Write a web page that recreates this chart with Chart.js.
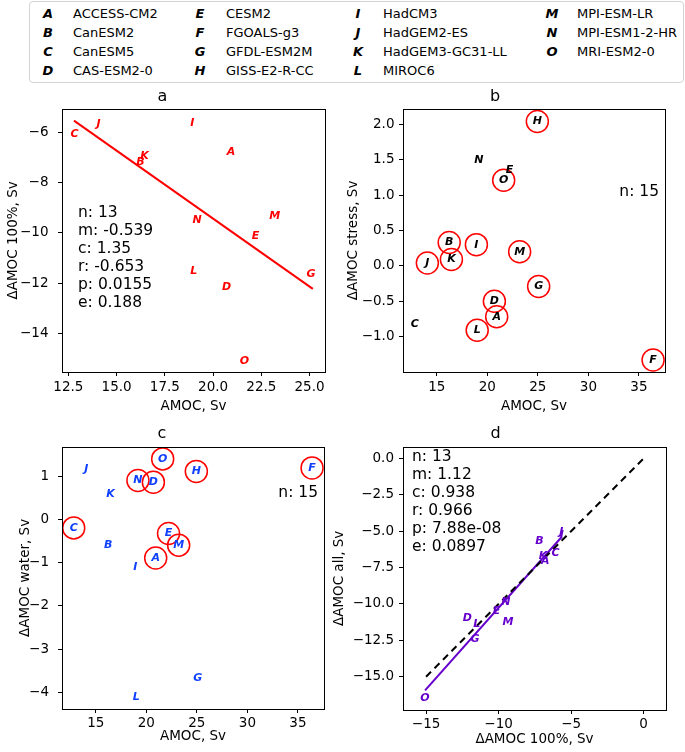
<!DOCTYPE html>
<html>
<head>
<meta charset="utf-8">
<script src="https://cdn.jsdelivr.net/npm/chart.js@4.4.1/dist/chart.umd.min.js"></script>
<style>
  body { margin: 0; background: #fff; width: 685px; height: 752px; position: relative; overflow: hidden; font-family: "DejaVu Sans", sans-serif; }
  canvas { position: absolute; }
  #legendBox { position: absolute; left: 29px; top: 1px; width: 655px; height: 82px; border: 1px solid #d3d3d3; border-radius: 4px; box-sizing: border-box; }
  .lg { position: absolute; font-size: 13px; line-height: 16px; white-space: nowrap; color: #000; transform: translateY(-50%); }
  .lg.code { font-weight: bold; font-style: italic; transform: translate(-50%, -50%); }
</style>
</head>
<body>
<div id="legendBox"></div>
<div id="legendItems"></div>
<canvas id="chartA" width="340" height="330" style="left:0;top:85px"></canvas>
<canvas id="chartB" width="360" height="330" style="left:325px;top:85px"></canvas>
<canvas id="chartC" width="340" height="337" style="left:0;top:415px"></canvas>
<canvas id="chartD" width="360" height="337" style="left:325px;top:415px"></canvas>
<script>
// Models and their letter codes
const letters = ['A', 'B', 'C', 'D', 'E', 'F', 'G', 'H', 'I', 'J', 'K', 'L', 'M', 'N', 'O'];
const models = ['ACCESS-CM2', 'CanESM2', 'CanESM5', 'CAS-ESM2-0', 'CESM2', 'FGOALS-g3', 'GFDL-ESM2M',
                'GISS-E2-R-CC', 'HadCM3', 'HadGEM2-ES', 'HadGEM3-GC31-LL', 'MIROC6', 'MPI-ESM-LR',
                'MPI-ESM1-2-HR', 'MRI-ESM2-0'];

// Values per model (null = model not in that panel)
const amoc      = [20.93, 16.23, 12.82, 20.7, 22.2, 36.4, 25.08, 24.95, 18.92, 14.07, 16.45, 19.0, 23.2, 19.17, 21.62];
const d100      = [-6.79, -7.19, -6.08, -12.16, -10.14, null, -11.62, null, -5.64, -5.68, -6.93, -11.5, -9.35, -9.5, -15.07];
const dStress   = [-0.72, 0.33, -0.82, -0.5, 1.36, -1.33, -0.29, 2.04, 0.3, 0.04, 0.09, -0.91, 0.2, 1.5, 1.21];
const dWater    = [-0.89, -0.59, -0.19, 0.87, -0.32, 1.2, -3.67, 1.12, -1.1, 1.18, 0.6, -4.11, -0.59, 0.91, 1.41];
const dAll      = [-7.05, -5.68, -6.53, -10.99, -10.49, null, -12.43, null, -5.3, -5.08, -6.71, -11.4, -11.27, -9.89, -16.49];
const stressRing = [1, 1, 0, 1, 0, 1, 1, 1, 1, 1, 1, 1, 1, 0, 1];
const waterRing  = [1, 0, 1, 1, 1, 1, 0, 1, 0, 0, 0, 0, 1, 1, 1];

// Regression / reference lines (end points)
const fitAX = [12.79, 25.17], fitAY = [-5.54, -12.22];
const fitDX = [-15.07, -5.64], fitDY = [-15.94, -5.38];
const oneX = [-15, 0], oneY = [-15, 0];

// Stats text
const statsA = ['n: 13', 'm: -0.539', 'c: 1.35', 'r: -0.653', 'p: 0.0155', 'e: 0.188'];
const statsB = ['n: 15'];
const statsC = ['n: 15'];
const statsD = ['n: 13', 'm: 1.12', 'c: 0.938', 'r: 0.966', 'p: 7.88e-08', 'e: 0.0897'];

// Tick values
const aXTicks = [12.5, 15, 17.5, 20, 22.5, 25];
const aYTicks = [-6, -8, -10, -12, -14];
const bXTicks = [15, 20, 25, 30, 35];
const bYTicks = [-1, -0.5, 0, 0.5, 1, 1.5, 2];
const cYTicks = [-4, -3, -2, -1, 0, 1];
const dXTicks = [-15, -10, -5, 0];
const dYTicks = [0, -2.5, -5, -7.5, -10, -12.5, -15];

const FONT = "'DejaVu Sans', sans-serif";
const RED = '#ff0000', BLUE = '#1040ff', PURPLE = '#6600cc';

// legend
const legendItems = document.getElementById('legendItems');
const colCode = [48, 200, 358, 552], colName = [73, 226, 383, 577], rowY = [13.5, 32.5, 51.5, 70.5];
letters.forEach((l, i) => {
    const col = Math.floor(i / 4), row = i % 4;
    legendItems.insertAdjacentHTML('beforeend',
        `<div class="lg code" style="left:${colCode[col]}px;top:${rowY[row]}px">${l}</div>` +
        `<div class="lg" style="left:${colName[col]}px;top:${rowY[row]}px">${models[i]}</div>`);
});

function fmt(v, dec) {
    return (v < 0 ? '\u2212' : '') + Math.abs(v).toFixed(dec);
}

function pts(xs, ys, keep) {
    const out = [];
    xs.forEach((x, i) => {
        if (ys[i] === null || x === null) return;
        if (keep && !keep[i]) return;
        out.push({ x: x, y: ys[i], label: letters[i] });
    });
    return out;
}

function pair(xs, ys) {
    return xs.map((x, i) => ({ x: x, y: ys[i] }));
}

// draws the letter codes at the data points, frame, and stats text
const markPlugin = {
    id: 'marks',
    afterDatasetsDraw(chart) {
        const ctx = chart.ctx;
        const a = chart.chartArea;
        ctx.save();
        ctx.strokeStyle = '#000';
        ctx.lineWidth = 1;
        ctx.strokeRect(Math.round(a.left) + 0.5, Math.round(a.top) + 0.5,
                       Math.round(a.right - a.left), Math.round(a.bottom - a.top));
        chart.data.datasets.forEach((ds, i) => {
            if (!ds.letterColor) return;
            const meta = chart.getDatasetMeta(i);
            ctx.fillStyle = ds.letterColor;
            ctx.font = "italic bold 11px " + FONT;
            ctx.textAlign = 'center';
            ctx.textBaseline = 'middle';
            meta.data.forEach((pt, j) => ctx.fillText(ds.data[j].label, pt.x, pt.y));
        });
        const st = chart.options.plugins.marks;
        if (st && st.lines) {
            ctx.fillStyle = '#000';
            ctx.font = "15.5px " + FONT;
            ctx.textAlign = st.align;
            ctx.textBaseline = 'middle';
            st.lines.forEach((t, k) => ctx.fillText(t, st.x, st.y + k * 18));
        }
        ctx.restore();
    }
};

function axis(o) {
    return {
        type: 'linear',
        min: o.min, max: o.max,
        afterBuildTicks: s => { s.ticks = o.ticks.map(v => ({ value: v })); },
        afterFit: s => { if (o.w !== undefined) s.width = o.w; if (o.h !== undefined) s.height = o.h; },
        ticks: { callback: v => fmt(v, o.dec), color: '#000', font: { family: FONT, size: 13.5 }, padding: o.pad, maxRotation: 0, autoSkip: false },
        grid: { display: true, drawOnChartArea: false, drawTicks: true, tickLength: 4, tickColor: '#000', color: '#000' },
        border: { display: false },
        title: { display: true, text: o.title, color: '#000', font: { family: FONT, size: 13.5 }, padding: o.titlePad }
    };
}

function panel(id, cfg) {
    return new Chart(document.getElementById(id), {
        type: 'scatter',
        data: { datasets: cfg.datasets },
        options: {
            responsive: false,
            animation: false,
            devicePixelRatio: 1,
            layout: { padding: { left: 0, right: cfg.padRight, top: 0, bottom: 0 } },
            plugins: {
                legend: { display: false },
                tooltip: { enabled: false },
                title: { display: true, text: cfg.title, color: '#000', font: { family: FONT, size: 16, weight: 'normal', lineHeight: 1.05 },
                         padding: { top: cfg.titleTop, bottom: cfg.titleBottom } },
                marks: cfg.stats
            },
            scales: { x: axis(cfg.x), y: axis(cfg.y) }
        },
        plugins: [markPlugin]
    });
}

function ringSet(data) {
    return { data: data, pointRadius: 11, pointHoverRadius: 11, borderColor: RED, borderWidth: 1.5,
             backgroundColor: 'rgba(0,0,0,0)', clip: false };
}
function letterSet(data, color) {
    return { data: data, pointRadius: 0, pointHoverRadius: 0, letterColor: color, clip: false };
}
function lineSet(data, color, dash) {
    return { data: data, showLine: true, borderColor: color, borderWidth: 2, borderDash: dash || [],
             pointRadius: 0, pointHoverRadius: 0, fill: false };
}

// a
panel('chartA', {
    title: 'a', titleTop: 3, titleBottom: 4, padRight: 15,
    datasets: [lineSet(pair(fitAX, fitAY), RED), letterSet(pts(amoc, d100), RED)],
    x: { min: 12.17, max: 25.8, ticks: aXTicks, dec: 1, pad: 3, h: 43, title: 'AMOC, Sv', titlePad: { top: 0, bottom: 0 } },
    y: { min: -15.52, max: -5.07, ticks: aYTicks, dec: 0, pad: 9.5, w: 62, title: '\u0394AMOC 100%, Sv', titlePad: { top: 5, bottom: 0 } },
    stats: { lines: statsA, x: 78, y: 128, align: 'left' }
});

// b
panel('chartB', {
    title: 'b', titleTop: 3, titleBottom: 4, padRight: 20,
    datasets: [letterSet(pts(amoc, dStress), '#000'), ringSet(pts(amoc, dStress, stressRing))],
    x: { min: 11.66, max: 37.58, ticks: bXTicks, dec: 0, pad: 3, h: 43, title: 'AMOC, Sv', titlePad: { top: 0, bottom: 0 } },
    y: { min: -1.5, max: 2.22, ticks: bYTicks, dec: 1, pad: 4.5, w: 78, title: '\u0394AMOC stress, Sv', titlePad: { top: 20, bottom: 0 } },
    stats: { lines: statsB, x: 334, y: 107, align: 'right' }
});

// c
panel('chartC', {
    title: 'c', titleTop: 10, titleBottom: 5, padRight: 16,
    datasets: [letterSet(pts(amoc, dWater), BLUE), ringSet(pts(amoc, dWater, waterRing))],
    x: { min: 11.66, max: 37.58, ticks: bXTicks, dec: 0, pad: 2.5, h: 43, title: 'AMOC, Sv', titlePad: { top: 0, bottom: 7 } },
    y: { min: -4.39, max: 1.69, ticks: cYTicks, dec: 0, pad: 9, w: 62, title: '\u0394AMOC water, Sv', titlePad: { top: 17, bottom: 0 } },
    stats: { lines: statsC, x: 318, y: 78, align: 'right' }
});

// d
panel('chartD', {
    title: 'd', titleTop: 10, titleBottom: 5, padRight: 19,
    datasets: [lineSet(pair(oneX, oneY), '#000', [7, 5]), lineSet(pair(fitDX, fitDY), PURPLE), letterSet(pts(d100, dAll), PURPLE)],
    x: { min: -16.59, max: 1.54, ticks: dXTicks, dec: 0, pad: 2.5, h: 42, title: '\u0394AMOC 100%, Sv', titlePad: { top: 0, bottom: 4 } },
    y: { min: -17.29, max: 0.8, ticks: dYTicks, dec: 1, pad: 5, w: 78, title: '\u0394AMOC all, Sv', titlePad: { top: 6, bottom: 0 } },
    stats: { lines: statsD, x: 87, y: 42, align: 'left' }
});
</script>
</body>
</html>
